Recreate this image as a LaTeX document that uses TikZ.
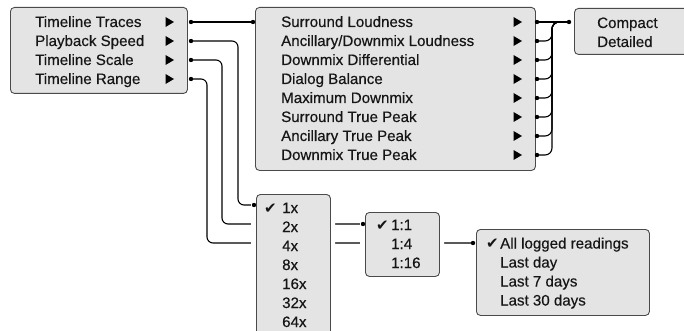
\documentclass[tikz,border=0pt]{standalone}
\usepackage{fontspec}
\setmainfont{Liberation Sans}[FakeBold=0.35]
\newfontfamily\symfont{DejaVu Sans}
\definecolor{boxfill}{HTML}{E4E4E4}
\definecolor{boxline}{HTML}{4A4A4A}
\definecolor{txt}{HTML}{161616}
\begin{document}
\begin{tikzpicture}[x=1pt,y=-1pt,
  menubox/.style={draw=boxline, fill=boxfill, rounded corners=4pt, line width=0.9pt},
  halo/.style={fill=white, rounded corners=6pt},
  item/.style={anchor=base west, inner sep=0pt, font=\fontsize{15.1}{18}\selectfont, text=txt},
  chk/.style={anchor=base west, inner sep=0pt, font=\symfont\fontsize{15}{16}\selectfont, text=txt},
  wire/.style={line width=1.1pt, rounded corners=6pt},
  dotc/.style={fill=black, circle, inner sep=0pt, minimum size=4.4pt}]
\useasboundingbox (0,0) rectangle (684,331);
\clip (0,0) rectangle (684,331);
% connection points
\foreach \i in {0,...,3} { \coordinate (ad\i) at (191,{22+19*\i}); }
\foreach \i in {0,...,7} { \coordinate (bd\i) at (537,{22+19*\i}); }
\coordinate (bin) at (253,22);
\coordinate (cin) at (569,22);
\coordinate (sin) at (254,205);
\coordinate (kin) at (363,224);
\coordinate (rin) at (473,243);
% wires
\draw[wire] (ad0) -- (bin);
\draw[wire] (ad1) -- (238,41) -- (238,205) -- (sin);
\draw[wire] (ad2) -- (222,60) -- (222,224) -- (kin);
\draw[wire] (ad3) -- (207,79) -- (207,243) -- (rin);
\draw[wire] (bd0) -- (cin);
\foreach \i in {1,...,7} { \draw[wire, rounded corners=7pt] (bd\i) -| (552,22) -- (cin); }
% boxes
\node[menubox, anchor=north west, minimum width=177pt, minimum height=86pt] (m1) at (10,7) {};
\node[menubox, anchor=north west, minimum width=280pt, minimum height=163pt] (m2) at (255,7) {};
\node[menubox, anchor=north west, minimum width=120pt, minimum height=46pt] (m3) at (574,8) {};
\fill[halo] (251,189) rectangle (335,350);
\node[menubox, anchor=north west, minimum width=74pt, minimum height=150pt] (m4) at (256,194) {};
\fill[halo] (360,207) rectangle (444,281);
\node[menubox, anchor=north west, minimum width=74pt, minimum height=64pt] (m5) at (365,212) {};
\node[menubox, anchor=north west, minimum width=173pt, minimum height=86pt] (m6) at (476,229) {};
% dots
\foreach \p in {ad0,ad1,ad2,ad3,bd0,bd1,bd2,bd3,bd4,bd5,bd6,bd7,bin,cin,sin,kin,rin} { \node[dotc] at (\p) {}; }
% box 1 items
\foreach \t [count=\i from 0] in {Timeline Traces, Playback Speed, Timeline Scale, Timeline Range} {
  \node[item] (a\i) at (35,{27+19*\i}) {\t};
  \fill (165.5,{17+19*\i}) -- ++(8.5,5) -- ++(-8.5,5) -- cycle;
}
% box 2 items
\foreach \t [count=\i from 0] in {Surround Loudness, Ancillary/Downmix Loudness, Downmix Differential, Dialog Balance, Maximum Downmix, Surround True Peak, Ancillary True Peak, Downmix True Peak} {
  \node[item] (b\i) at (281,{27+19*\i}) {\t};
  \fill (513.5,{17+19*\i}) -- ++(8.5,5) -- ++(-8.5,5) -- cycle;
}
% box 3 items
\node[item] (c0) at (597,28) {Compact};
\node[item] (c1) at (597,47) {Detailed};
% speed items
\node[chk] (sck) at (264,213) {✔};
\foreach \t [count=\i from 0] in {1x,2x,4x,8x,16x,32x,64x} {
  \node[item] (s\i) at (282,{213+19*\i}) {\t};
}
% scale items
\node[chk] (kck) at (376,230) {✔};
\foreach \t [count=\i from 0] in {1:1,1:4,1:16} {
  \node[item] (k\i) at (391,{230+19*\i}) {\t};
}
% range items
\node[chk] (rck) at (486,248.5) {✔};
\foreach \t [count=\i from 0] in {All logged readings, Last day, Last 7 days, Last 30 days} {
  \node[item] (r\i) at (500,{248.5+19*\i}) {\t};
}
\end{tikzpicture}
\end{document}
